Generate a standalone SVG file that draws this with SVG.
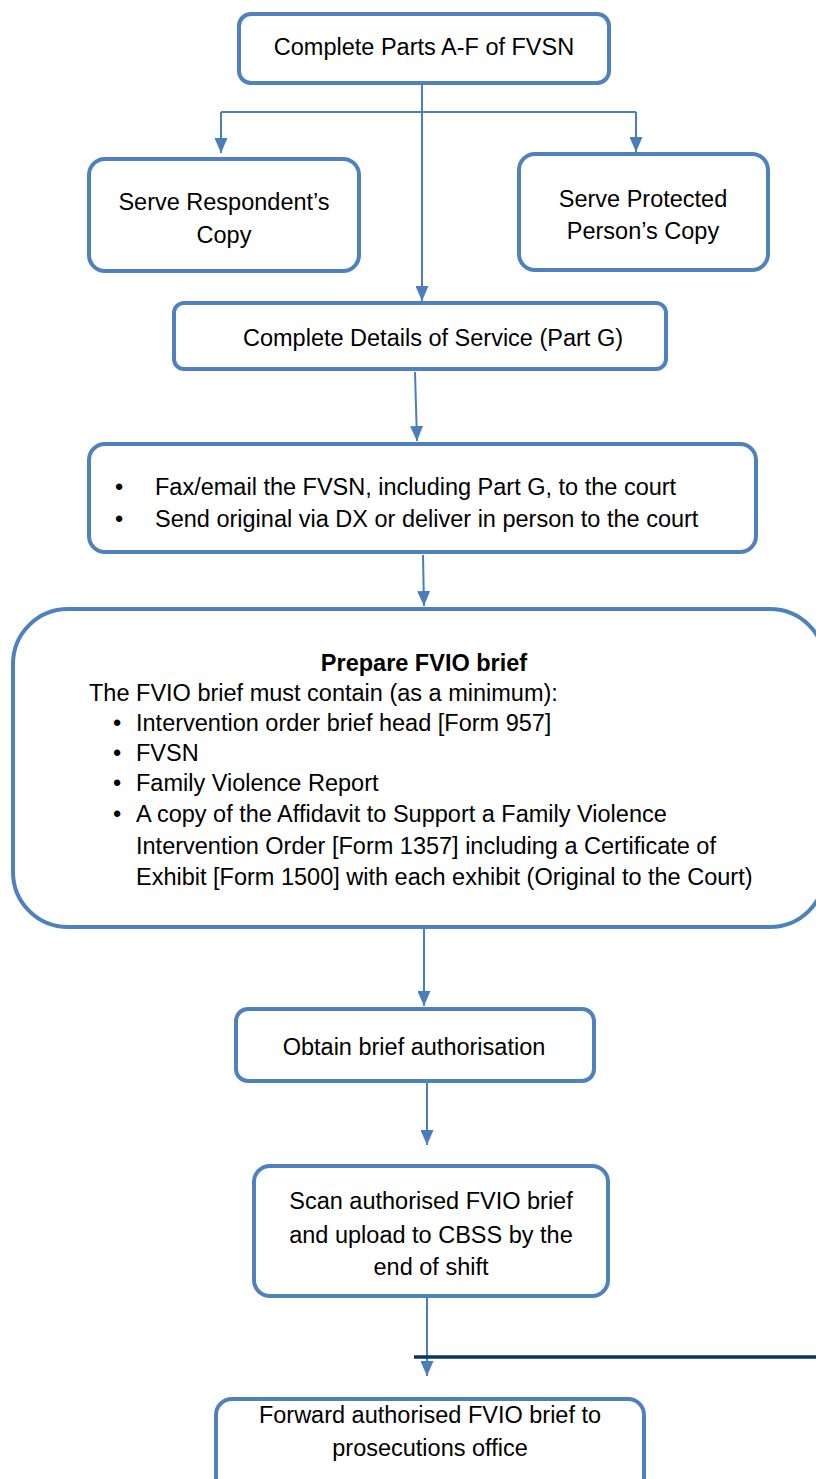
<svg xmlns="http://www.w3.org/2000/svg" width="816" height="1479" viewBox="0 0 816 1479">
<style>
.box{fill:#fff;stroke:#4F81BD;stroke-width:4}
.t{font-family:"Liberation Sans",Arial,sans-serif;font-size:23.5px;fill:#000}
.c{text-anchor:middle}
.b{font-weight:bold}
.ln{stroke:#4A7EBB;stroke-width:2;fill:none}
</style>
<defs>
<marker id="a" markerWidth="15" markerHeight="13" refX="15" refY="6.5" orient="auto" markerUnits="userSpaceOnUse" viewBox="0 0 15 13">
<path d="M0,0 L15,6.5 L0,13 Z" fill="#4A7EBB"/>
</marker>
</defs>
<g id="connectors">
<path class="ln" d="M422,84 V301" marker-end="url(#a)"/>
<path class="ln" d="M221,112 H636"/>
<path class="ln" d="M221,112 V153" marker-end="url(#a)"/>
<path class="ln" d="M636,112 V152" marker-end="url(#a)"/>
<path class="ln" d="M415,372 L417,441" marker-end="url(#a)"/>
<path class="ln" d="M423,555 L424,606" marker-end="url(#a)"/>
<path class="ln" d="M424,924 V1006" marker-end="url(#a)"/>
<path class="ln" d="M427,1082 V1145" marker-end="url(#a)"/>
<path class="ln" d="M427,1290 V1376" marker-end="url(#a)"/>
<path d="M414,1357 H816" stroke="#0B3566" stroke-width="3.5" fill="none"/>
</g>
<g id="n1">
<rect class="box" x="239" y="14" width="370" height="69" rx="12"/>
<text class="t c" x="424" y="55">Complete Parts A-F of FVSN</text>
</g>
<g id="n2">
<rect class="box" x="89" y="159" width="270" height="112" rx="16"/>
<text class="t c" x="224" y="210">Serve Respondent’s</text>
<text class="t c" x="224" y="243">Copy</text>
</g>
<g id="n3">
<rect class="box" x="519" y="154" width="249" height="116" rx="16"/>
<text class="t c" x="643" y="207">Serve Protected</text>
<text class="t c" x="643" y="239">Person’s Copy</text>
</g>
<g id="n4">
<rect class="box" x="174" y="303" width="492" height="66" rx="10"/>
<text class="t c" x="433" y="346">Complete Details of Service (Part G)</text>
</g>
<g id="n5">
<rect class="box" x="89" y="444" width="667" height="108" rx="16"/>
<text class="t" x="115" y="495">•</text>
<text class="t" x="155" y="495">Fax/email the FVSN, including Part G, to the court</text>
<text class="t" x="115" y="527">•</text>
<text class="t" x="155" y="527">Send original via DX or deliver in person to the court</text>
</g>
<g id="n6">
<rect class="box" x="13" y="609" width="812" height="318" rx="55"/>
<text class="t c b" x="424" y="671">Prepare FVIO brief</text>
<text class="t" x="89" y="701">The FVIO brief must contain (as a minimum):</text>
<text class="t" x="113" y="731">•</text>
<text class="t" x="136" y="731">Intervention order brief head [Form 957]</text>
<text class="t" x="113" y="761">•</text>
<text class="t" x="136" y="761">FVSN</text>
<text class="t" x="113" y="791">•</text>
<text class="t" x="136" y="791">Family Violence Report</text>
<text class="t" x="113" y="822">•</text>
<text class="t" x="136" y="822">A copy of the Affidavit to Support a Family Violence</text>
<text class="t" x="136" y="854">Intervention Order [Form 1357] including a Certificate of</text>
<text class="t" x="136" y="885">Exhibit [Form 1500] with each exhibit (Original to the Court)</text>
</g>
<g id="n7">
<rect class="box" x="236" y="1009" width="358" height="72" rx="12"/>
<text class="t c" x="414" y="1055">Obtain brief authorisation</text>
</g>
<g id="n8">
<rect class="box" x="254" y="1166" width="354" height="130" rx="16"/>
<text class="t c" x="431" y="1209">Scan authorised FVIO brief</text>
<text class="t c" x="431" y="1243">and upload to CBSS by the</text>
<text class="t c" x="431" y="1275">end of shift</text>
</g>
<g id="n9">
<rect class="box" x="216" y="1399" width="428" height="100" rx="16"/>
<text class="t c" x="430" y="1423">Forward authorised FVIO brief to</text>
<text class="t c" x="430" y="1456">prosecutions office</text>
</g>
</svg>
